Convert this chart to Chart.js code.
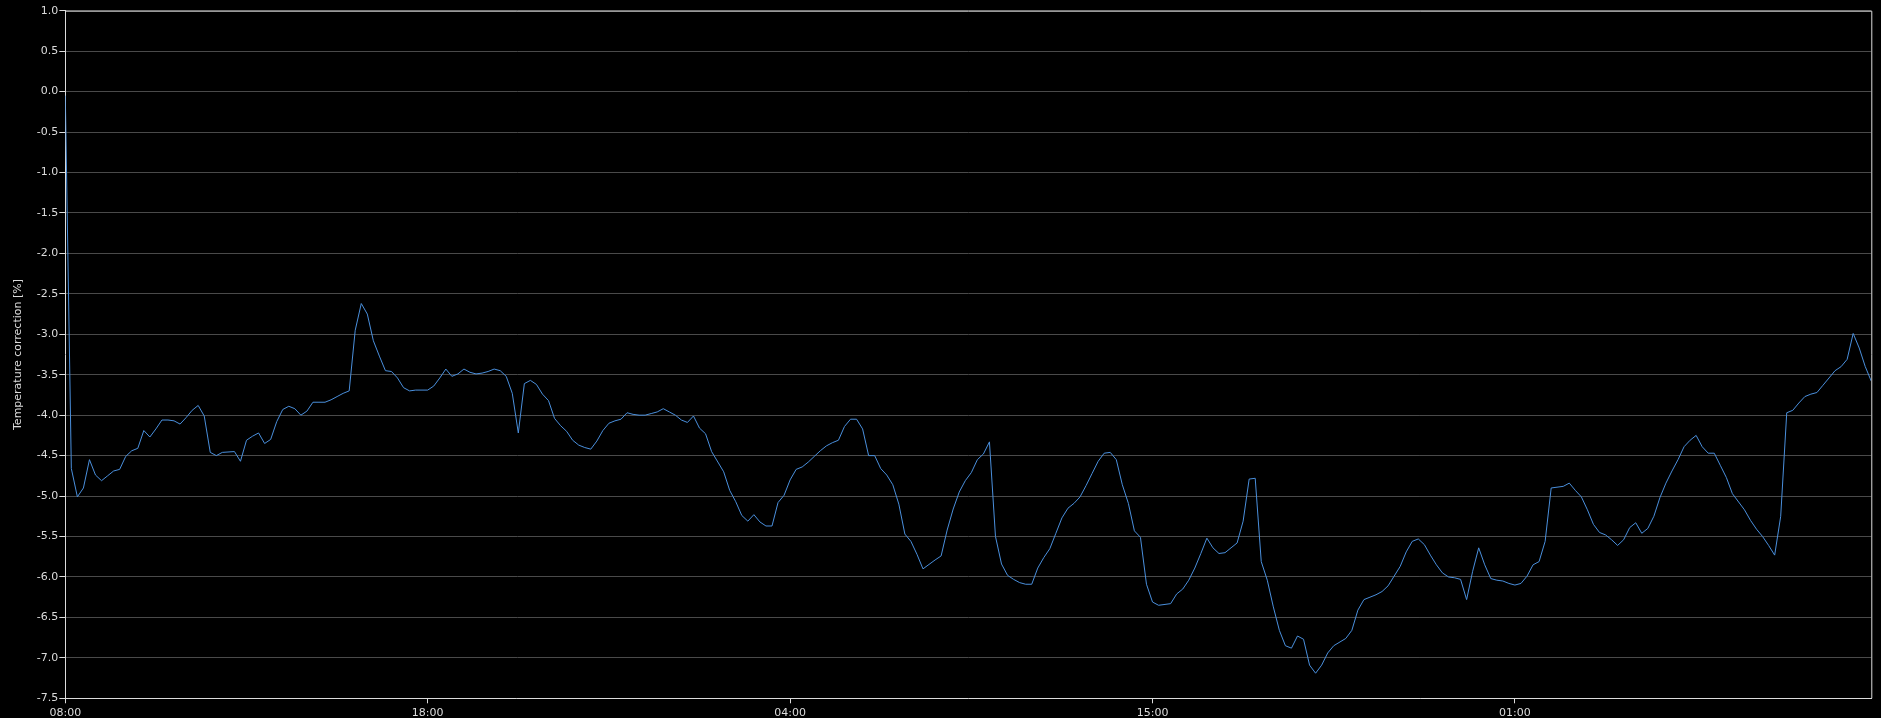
<!DOCTYPE html>
<html>
<head>
<meta charset="utf-8">
<script src="https://cdn.jsdelivr.net/npm/chart.js@4/dist/chart.umd.min.js"></script>
<style>
  html, body { margin: 0; padding: 0; background: #000; }
  #wrap { width: 1881px; height: 718px; }
</style>
</head>
<body>
<div id="wrap"><canvas id="myGraph"></canvas></div>
<script>
// samples (10 min apart), null = sample not visible as its own vertex
const correction = [
  -0.05, -4.66, -5.01, -4.90, -4.55, -4.74, -4.81, -4.75, -4.69, -4.67,
  -4.51, -4.44, -4.41, -4.19, -4.27, -4.17, -4.06, -4.06, -4.07, -4.11,
  -4.03, -3.94, -3.88, -4.01, -4.46, -4.50, -4.46, null, -4.45, -4.57,
  -4.31, -4.26, -4.22, -4.35, -4.30, -4.08, -3.93, -3.89, -3.92, -4.00,
  -3.95, -3.84, -3.84, -3.84, -3.81, -3.77, -3.73, -3.70, -2.95, -2.62,
  -2.75, -3.08, -3.27, -3.45, -3.46, -3.54, -3.66, -3.70, -3.69, null,
  -3.69, -3.64, -3.54, -3.43, -3.52, -3.49, -3.43, -3.47, -3.49, -3.48,
  -3.46, -3.43, -3.45, -3.52, -3.73, -4.22, -3.61, -3.57, -3.62, -3.74,
  -3.82, -4.04, -4.13, -4.20, -4.31, -4.37, -4.40, -4.42, -4.32, -4.19,
  -4.10, -4.07, -4.05, -3.97, -3.99, -4.00, -4.00, -3.98, -3.96, -3.92,
  -3.96, -4.00, -4.06, -4.09, -4.01, -4.16, -4.23, -4.45, null, -4.70,
  -4.93, -5.07, -5.24, -5.31, -5.23, -5.32, -5.37, -5.37, -5.08, -4.99,
  -4.80, -4.67, -4.64, -4.58, -4.51, -4.44, -4.38, -4.34, -4.31, -4.14,
  -4.05, -4.05, -4.17, -4.50, -4.50, -4.66, -4.74, -4.86, -5.10, -5.47,
  -5.56, -5.72, -5.90, null, -5.79, -5.74, -5.42, -5.16, -4.95, -4.81,
  -4.71, -4.55, -4.48, -4.33, -5.50, -5.84, -5.98, -6.03, -6.07, -6.09,
  -6.09, -5.89, -5.76, -5.65, -5.46, -5.27, -5.15, -5.09, -5.01, -4.87,
  -4.72, -4.57, -4.47, -4.46, -4.55, -4.86, -5.09, -5.43, -5.51, -6.09,
  -6.31, -6.35, null, -6.33, -6.21, -6.15, -6.04, -5.89, -5.71, -5.52,
  -5.64, -5.71, -5.70, -5.64, -5.58, -5.31, -4.79, -4.78, -5.81, -6.04,
  -6.37, -6.66, -6.85, -6.88, -6.73, -6.77, -7.09, -7.19, -7.09, -6.94,
  -6.85, null, -6.76, -6.66, -6.41, -6.28, -6.25, -6.22, -6.18, -6.11,
  -5.99, -5.87, -5.69, -5.56, -5.53, -5.60, -5.73, -5.85, -5.95, -6.00,
  -6.01, -6.03, -6.28, -5.93, -5.64, -5.85, -6.02, -6.04, -6.05, -6.08,
  -6.10, -6.08, -5.99, -5.85, -5.81, -5.56, -4.90, null, -4.88, -4.84,
  -4.93, -5.01, -5.17, -5.35, -5.45, -5.48, -5.54, -5.61, -5.54, -5.39,
  -5.33, -5.46, -5.40, -5.25, -5.02, -4.84, -4.69, -4.55, -4.39, -4.31,
  -4.25, -4.39, -4.47, -4.47, -4.62, -4.77, -4.97, null, -5.17, -5.30,
  -5.41, -5.50, -5.61, -5.73, -5.25, -3.97, -3.94, -3.85, -3.77, -3.74,
  -3.72, -3.63, -3.54, -3.45, -3.40, -3.31, -2.99, -3.17, -3.40, -3.58
];

// x axis ticks: sample index -> clock label
const tickSamples = [0, 60, 120, 180, 240];
const tickLabels = ['08:00', '18:00', '04:00', '15:00', '01:00'];

const yMin = -7.5;
const yMax = 1.0;
const yStep = 0.5;

const axisColor = '#dcdcdc';
const gridColor = '#4a4a4a';
const lineColor = '#4a8fdc';
const font = { family: 'DejaVu Sans', size: 11 };

// white frame on top and right like the original plot box
const frame = {
  id: 'frame',
  afterDraw(chart) {
    const { ctx, chartArea: a } = chart;
    ctx.save();
    ctx.strokeStyle = axisColor;
    ctx.lineWidth = 1;
    ctx.beginPath();
    ctx.moveTo(a.left, a.top + 0.5);
    ctx.lineTo(a.right + 0.5, a.top + 0.5);
    ctx.lineTo(a.right + 0.5, a.bottom);
    ctx.stroke();
    ctx.restore();
  }
};

const graph = document.getElementById('myGraph');

const myGraph = new Chart(graph, {
  type: 'line',
  data: {
    datasets: [{
      label: 'Temperature correction',
      data: correction.map((v, i) => ({ x: i, y: v })),
      borderColor: lineColor,
      borderWidth: 1,
      pointRadius: 0,
      tension: 0,
      spanGaps: true
    }]
  },
  options: {
    responsive: true,
    maintainAspectRatio: false,
    animation: false,
    layout: { padding: { top: 10.7, right: 9.7, left: 0, bottom: 0 } },
    plugins: { legend: { display: false }, tooltip: { enabled: false } },
    scales: {
      x: {
        type: 'linear',
        min: 0,
        max: correction.length - 1,
        afterBuildTicks: (scale) => {
          scale.ticks = tickSamples.map(v => ({ value: v }));
        },
        afterFit: (scale) => { scale.height = 19.7; },
        ticks: {
          autoSkip: false,
          maxRotation: 0,
          padding: 3,
          color: axisColor,
          font: font,
          callback: (value, index) => tickLabels[index]
        },
        grid: { drawOnChartArea: false, tickLength: 5, tickColor: axisColor },
        border: { color: axisColor, width: 1 }
      },
      y: {
        min: yMin,
        max: yMax,
        afterFit: (scale) => { scale.width = 65.3; },
        ticks: {
          stepSize: yStep,
          padding: 1,
          color: axisColor,
          font: font,
          callback: (v) => v.toFixed(1)
        },
        grid: { color: gridColor, tickLength: 6, tickColor: axisColor },
        border: { color: axisColor, width: 1 },
        title: {
          display: true,
          text: 'Temperature correction [%]',
          color: axisColor,
          font: font,
          padding: { top: 12, bottom: 0 }
        }
      }
    }
  },
  plugins: [frame]
});
</script>
</body>
</html>
